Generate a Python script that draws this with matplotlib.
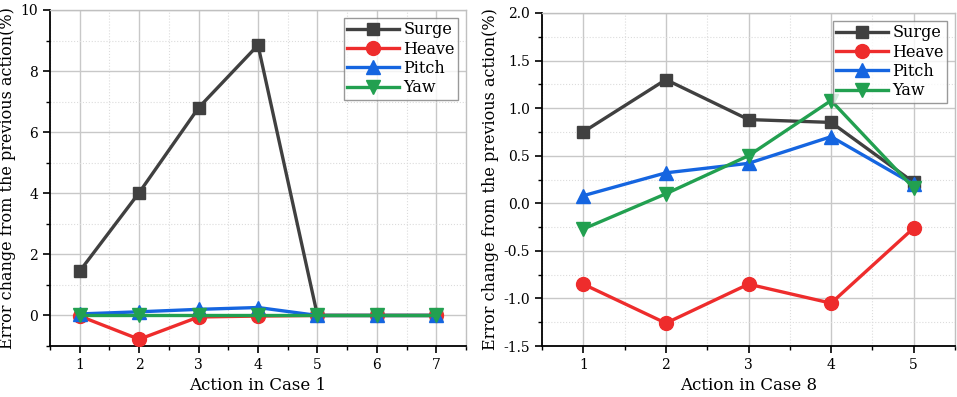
import matplotlib
matplotlib.use('Agg')
import matplotlib.pyplot as plt
from matplotlib.ticker import MultipleLocator

# Case 1
case1_x = [1, 2, 3, 4, 5, 6, 7]
case1_surge = [1.45, 4.02, 6.8, 8.85, 0.0, 0.0, 0.0]
case1_heave = [-0.02, -0.78, -0.05, -0.02, 0.0, 0.0, 0.0]
case1_pitch = [0.05, 0.12, 0.2, 0.26, 0.0, 0.0, 0.0]
case1_yaw = [0.0, 0.0, 0.0, 0.0, 0.0, 0.0, 0.0]

# Case 8
case8_x = [1, 2, 3, 4, 5]
case8_surge = [0.75, 1.3, 0.88, 0.85, 0.22]
case8_heave = [-0.85, -1.26, -0.85, -1.05, -0.26]
case8_pitch = [0.08, 0.32, 0.42, 0.70, 0.20]
case8_yaw = [-0.27, 0.10, 0.50, 1.08, 0.16]

names = ["Surge", "Heave", "Pitch", "Yaw"]
colors = ["#404040", "#ee2c2c", "#1565e0", "#22a050"]
markers = ["s", "o", "^", "v"]
msizes = [9, 10, 10, 10]

plt.rcParams['font.family'] = ['DejaVu Serif']
plt.rcParams['font.size'] = 10

fig = plt.figure(figsize=(9.57, 3.97), dpi=100)
W, H = 957, 397
ax1 = fig.add_axes([50 / W, 1 - 346 / H, 416 / W, 336 / H])
ax2 = fig.add_axes([542 / W, 1 - 346 / H, 413 / W, 333 / H])


def draw(ax, x, series, xlim, ylim, ymaj, ymin, xlabel):
    for ys, name, c, m, ms in zip(series, names, colors, markers, msizes):
        ax.plot(x, ys, color=c, marker=m, markersize=ms, linewidth=2.4,
                label=name, zorder=3)
    ax.set_xlim(*xlim)
    ax.set_ylim(*ylim)
    ax.xaxis.set_major_locator(MultipleLocator(1))
    ax.xaxis.set_minor_locator(MultipleLocator(0.5))
    ax.yaxis.set_major_locator(MultipleLocator(ymaj))
    ax.yaxis.set_minor_locator(MultipleLocator(ymin))
    ax.grid(which='major', color='#c8c8c8', linewidth=1.0, zorder=0)
    ax.grid(which='minor', color='#dcdcdc', linewidth=0.8, linestyle=':', zorder=0)
    ax.set_axisbelow(True)
    for s in ['top', 'right']:
        ax.spines[s].set_color('#c0c0c0')
        ax.spines[s].set_linewidth(1.0)
    for s in ['left', 'bottom']:
        ax.spines[s].set_linewidth(1.3)
    ax.tick_params(which='major', direction='out', length=5, width=1.2,
                   labelsize=10, top=False, right=False)
    ax.tick_params(which='minor', direction='out', length=3, width=1.0,
                   top=False, right=False)
    ax.set_xlabel(xlabel, fontsize=12, labelpad=4)
    ax.set_ylabel("Error change from the previous action(%)", fontsize=11.5, labelpad=3)
    leg = ax.legend(loc='upper right', fontsize=11.5, frameon=True, fancybox=False,
                    edgecolor='#808080', borderpad=0.2, labelspacing=0.15,
                    handlelength=3.2, handletextpad=0.3, borderaxespad=0.5)
    leg.get_frame().set_linewidth(1.0)


draw(ax1, case1_x, [case1_surge, case1_heave, case1_pitch, case1_yaw],
     (0.5, 7.5), (-1, 10), 2, 1, "Action in Case 1")
draw(ax2, case8_x, [case8_surge, case8_heave, case8_pitch, case8_yaw],
     (0.5, 5.5), (-1.5, 2.0), 0.5, 0.25, "Action in Case 8")
ax2.yaxis.set_major_formatter(matplotlib.ticker.FormatStrFormatter('%.1f'))

fig.savefig("out.png", dpi=100)
